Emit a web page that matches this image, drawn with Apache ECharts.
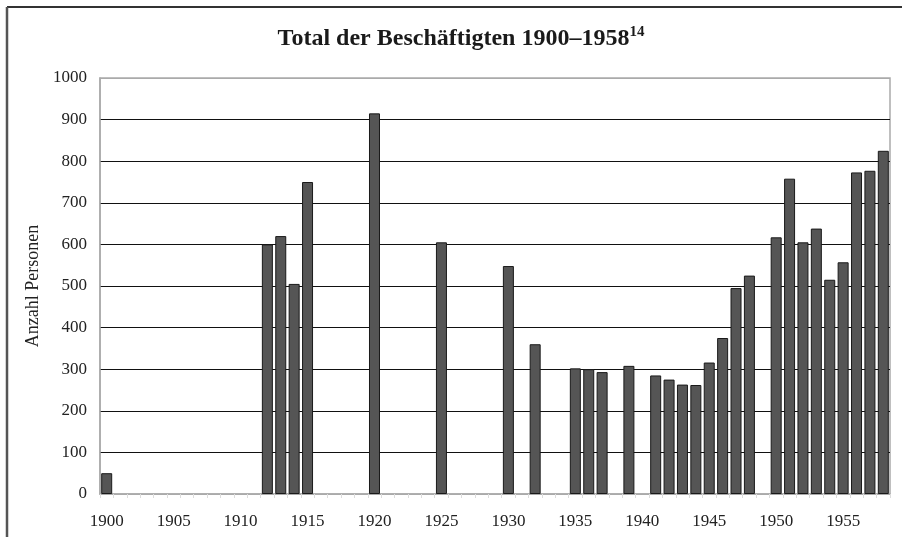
<!DOCTYPE html>
<html>
<head>
<meta charset="utf-8">
<script src="https://cdn.jsdelivr.net/npm/echarts@6/dist/echarts.min.js"></script>
<style>html,body{margin:0;padding:0;background:#fff}#c{width:902px;height:537px}</style>
</head>
<body>
<div id="c"></div>
<script>
const titleText = 'Total der Beschäftigten 1900–1958';
const titleNote = '14';
const yAxisName = 'Anzahl Personen';
const years = [];
for (let y = 1900; y <= 1958; y++) years.push(String(y));
// Employees per year (null = no data)
const employees = [
  50, null, null, null, null, null, null, null, null, null,   // 1900-1909
  null, null, 600, 620, 505, 750, null, null, null, null,      // 1910-1919
  915, null, null, null, null, 605, null, null, null, null,    // 1920-1929
  548, null, 360, null, null, 302, 300, 293, null, 308,        // 1930-1939
  null, 285, 275, 263, 262, 316, 375, 495, 525, null,          // 1940-1949
  617, 758, 605, 638, 515, 557, 773, 777, 825                  // 1950-1958
];
const yTicks = [0, 100, 200, 300, 400, 500, 600, 700, 800, 900, 1000];

const serif = '"Liberation Serif", "DejaVu Serif", serif';
const chart = echarts.init(document.getElementById('c'), null, {renderer: 'canvas'});
const splitColors = yTicks.map((v, i) => (i === 0 || i === yTicks.length - 1) ? '#aaaaaa' : '#111111');
chart.setOption({
  animation: false,
  backgroundColor: '#ffffff',
  title: {
    text: '{a|' + titleText + '}{s|' + titleNote + '}',
    left: 461,
    textAlign: 'center',
    top: 25,
    padding: 0,
    textStyle: {
      rich: {
        a: {fontFamily: serif, fontWeight: 'bold', fontSize: 24, color: '#1a1a1a', lineHeight: 28},
        s: {fontFamily: serif, fontWeight: 'bold', fontSize: 15, color: '#1a1a1a', lineHeight: 28, verticalAlign: 'top'}
      }
    }
  },
  graphic: [
    {type: 'line', shape: {x1: 7, y1: 7, x2: 902, y2: 7}, style: {stroke: '#333', lineWidth: 2}, silent: true},
    {type: 'line', shape: {x1: 7, y1: 7, x2: 7, y2: 537}, style: {stroke: '#555', lineWidth: 2.5}, silent: true}
  ],
  grid: {
    left: 100, right: 12, top: 78, bottom: 43,
    show: true, borderColor: '#aaaaaa', borderWidth: 1.5, backgroundColor: 'transparent'
  },
  xAxis: {
    type: 'category',
    data: years,
    axisLine: {show: true, lineStyle: {color: '#aaaaaa', width: 1.5}},
    axisTick: {show: true, interval: 0, length: 4, lineStyle: {color: '#dddddd'}},
    axisLabel: {interval: 4, margin: 19, fontFamily: serif, fontSize: 17, color: '#222'},
    splitLine: {show: false}
  },
  yAxis: {
    type: 'value',
    min: 0, max: 1000, interval: 100,
    name: yAxisName,
    nameLocation: 'middle',
    nameGap: 50,
    nameTextStyle: {fontFamily: serif, fontSize: 18, color: '#222'},
    axisLine: {show: true, lineStyle: {color: '#aaaaaa', width: 1.5}},
    axisTick: {show: false},
    axisLabel: {margin: 13, fontFamily: serif, fontSize: 17, color: '#222', formatter: v => String(v)},
    splitLine: {show: true, lineStyle: {color: splitColors, width: 1.2}}
  },
  series: [{
    type: 'bar',
    data: employees,
    barWidth: 11,
    itemStyle: {color: '#555555', borderColor: '#1a1a1a', borderWidth: 1}
  }]
});
</script>
</body>
</html>
